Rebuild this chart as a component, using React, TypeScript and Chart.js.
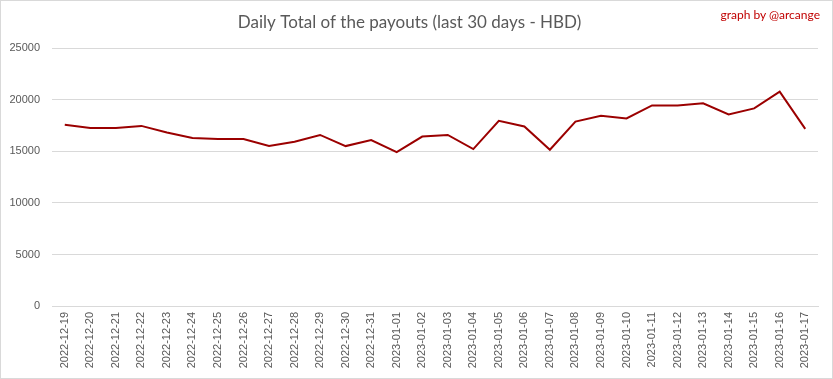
import React, { useEffect, useRef } from "react";
import { Chart, registerables } from "chart.js";

Chart.register(...registerables);

const TITLE = "Daily Total of the payouts (last 30 days - HBD)";
const CREDIT = "graph by @arcange";

const dates = [
  "2022-12-19", "2022-12-20", "2022-12-21", "2022-12-22", "2022-12-23",
  "2022-12-24", "2022-12-25", "2022-12-26", "2022-12-27", "2022-12-28",
  "2022-12-29", "2022-12-30", "2022-12-31", "2023-01-01", "2023-01-02",
  "2023-01-03", "2023-01-04", "2023-01-05", "2023-01-06", "2023-01-07",
  "2023-01-08", "2023-01-09", "2023-01-10", "2023-01-11", "2023-01-12",
  "2023-01-13", "2023-01-14", "2023-01-15", "2023-01-16", "2023-01-17",
];

const payouts = [
  17580, 17280, 17280, 17480, 16830,
  16300, 16200, 16200, 15520, 15950,
  16600, 15520, 16110, 14930, 16440,
  16600, 15230, 17970, 17420, 15160,
  17900, 18460, 18200, 19470, 19470,
  19670, 18590, 19180, 20810, 17190,
];

const yTicks = [0, 5000, 10000, 15000, 20000, 25000];

export default function App() {
  const canvasRef = useRef<HTMLCanvasElement | null>(null);

  useEffect(() => {
    document.body.style.margin = "0";
    const canvas = canvasRef.current;
    if (!canvas) return;
    const chart = new Chart(canvas, {
      type: "line",
      data: {
        labels: dates,
        datasets: [
          {
            label: "HBD",
            data: payouts,
            borderColor: "#9b0000",
            backgroundColor: "#9b0000",
            borderWidth: 2,
            pointRadius: 0,
            tension: 0,
          },
        ],
      },
      options: {
        responsive: false,
        animation: false,
        layout: { padding: { left: 0, right: 14, top: 0, bottom: 0 } },
        plugins: {
          legend: { display: false },
          tooltip: { enabled: false },
          title: {
            display: true,
            text: TITLE,
            color: "#595959",
            font: { family: "Lato", size: 17, weight: "normal" },
            padding: { top: 11, bottom: 16 },
          },
        },
        scales: {
          x: {
            offset: true,
            grid: { display: false, drawTicks: false },
            border: { display: true, color: "#d9d9d9", width: 1 },
            ticks: {
              color: "#595959",
              font: { family: "Liberation Sans", size: 11 },
              minRotation: 90,
              maxRotation: 90,
              autoSkip: false,
              padding: 6,
            },
            afterFit: (scale: any) => {
              scale.height = 72;
            },
          },
          y: {
            min: 0,
            max: 25000,
            afterBuildTicks: (scale: any) => {
              scale.ticks = yTicks.map((v) => ({ value: v }));
            },
            grid: { color: "#d9d9d9", drawTicks: false, lineWidth: 1 },
            border: { display: false },
            ticks: {
              color: "#595959",
              font: { family: "Liberation Sans", size: 11 },
              padding: 12,
              callback: (value: any) => String(value),
            },
            afterFit: (scale: any) => {
              scale.width = 51;
            },
          },
        },
      },
    });
    return () => chart.destroy();
  }, []);

  return (
    <div
      style={{
        position: "absolute",
        left: 0,
        top: 0,
        width: 833,
        height: 379,
        boxSizing: "border-box",
        border: "1px solid #d9d9d9",
        background: "#ffffff",
      }}
    >
      <canvas ref={canvasRef} width={831} height={377} style={{ display: "block" }} />
      <div
        style={{
          position: "absolute",
          right: 12,
          top: 7,
          color: "#c00000",
          fontFamily: "Lato",
          fontSize: 12,
          lineHeight: "14px",
          whiteSpace: "nowrap",
        }}
      >
        {CREDIT}
      </div>
    </div>
  );
}
